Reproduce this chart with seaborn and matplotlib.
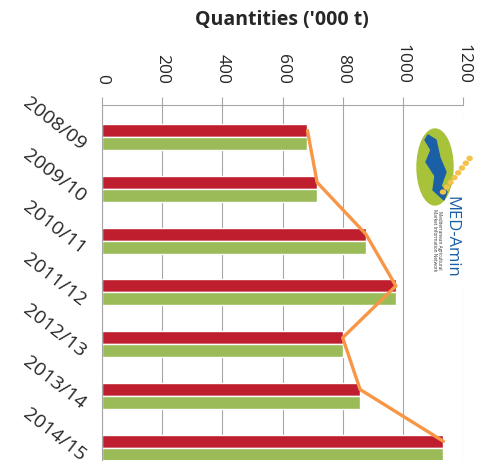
import numpy as np
import pandas as pd
import matplotlib
matplotlib.use("Agg")
import matplotlib.pyplot as plt
import matplotlib.transforms as mtransforms
from matplotlib.patches import Ellipse, Polygon
import seaborn as sns

# dane
seasons = ["2008/09", "2009/10", "2010/11", "2011/12", "2012/13", "2013/14", "2014/15"]
series_red = [683, 715, 877, 977, 800, 858, 1135]
series_green = [683, 715, 877, 978, 800, 858, 1135]
line_vals = [683, 715, 877, 977, 800, 858, 1135]
xticks = [0, 200, 400, 600, 800, 1000, 1200]

RED = "#BE1E2D"
GREEN = "#9BBB59"
ORANGE = "#F79646"
GRID = "#A6A6A6"

sns.set_style("white")
plt.rcParams["font.family"] = ["Open Sans", "DejaVu Sans"]

df = pd.DataFrame({
    "season": seasons * 2,
    "value": series_red + series_green,
    "series": ["a"] * len(seasons) + ["b"] * len(seasons),
})

fig = plt.figure(figsize=(4.94, 4.73), dpi=100)
ax = fig.add_axes([102 / 494, 1 - 460 / 473, 361 / 494, 355 / 473])

sns.barplot(data=df, x="value", y="season", hue="series", hue_order=["a", "b"],
            palette=[RED, GREEN], orient="h", width=0.5, gap=0,
            saturation=1, legend=False, ax=ax, zorder=2)

pos = np.arange(len(seasons))
ax.plot(line_vals, pos - 0.125, color=ORANGE, lw=2.4, zorder=3,
        solid_joinstyle="round", solid_capstyle="round")

ax.set_xlim(0, 1200)
ax.set_ylim(6.236, -0.618)
ax.set_xticks(xticks)
ax.set_xticklabels([str(t) for t in xticks], rotation=-90, fontsize=12.5)
ax.xaxis.tick_top()
ax.tick_params(axis="x", length=6, color=GRID, width=0.8, pad=9, top=True, bottom=False)
ax.grid(axis="x", color=GRID, lw=0.8, zorder=0)
ax.set_axisbelow(True)

ax.set_yticks(pos)
ax.set_yticklabels(seasons, fontsize=14, rotation=-38, ha="right", va="center",
                   rotation_mode="anchor")
ax.tick_params(axis="y", length=0, pad=13)
offset = mtransforms.ScaledTranslation(0, -10 / 100, fig.dpi_scale_trans)
for lab in ax.get_yticklabels():
    lab.set_transform(lab.get_transform() + offset)

ax.set_xlabel("")
ax.set_ylabel("")
for side in ["right", "bottom"]:
    ax.spines[side].set_visible(False)
for side in ["top", "left"]:
    ax.spines[side].set_color(GRID)
    ax.spines[side].set_linewidth(0.8)

fig.text(282 / 494, 1 - 20 / 473, "Quantities ('000 t)", ha="center", va="center",
         fontsize=14, fontweight="bold")

# logo MED-Amin (uproszczony)
lg = fig.add_axes([413 / 494, 1 - 285 / 473, 69 / 494, 163 / 473], zorder=5)
lg.set_xlim(413, 482)
lg.set_ylim(285, 122)
lg.set_facecolor("white")
lg.set_xticks([])
lg.set_yticks([])
for s in lg.spines.values():
    s.set_visible(False)
lg.add_patch(Ellipse((435, 167), 36, 76, color="#A8C23A"))
lg.add_patch(Polygon([(428, 135), (436, 140), (440, 158), (446, 172), (441, 186),
                      (447, 192), (444, 200), (433, 190), (435, 176), (426, 162),
                      (431, 150), (425, 140)], closed=True, color="#1B5FA6"))
for k in range(8):
    lg.add_patch(Ellipse((443 + k * 3.8, 192 - k * 4.8), 5, 4, color="#F2C24B"))
lg.text(451, 237, "MED-Amin", rotation=-90, ha="center", va="center",
        fontsize=12, color="#1B5FA6")
lg.text(437, 240, "Mediterranean Agricultural\nMarket Information Network",
        rotation=-90, ha="center", va="center", fontsize=3.3, color="#333333",
        linespacing=1.1)

fig.savefig("out.png", dpi=100)
